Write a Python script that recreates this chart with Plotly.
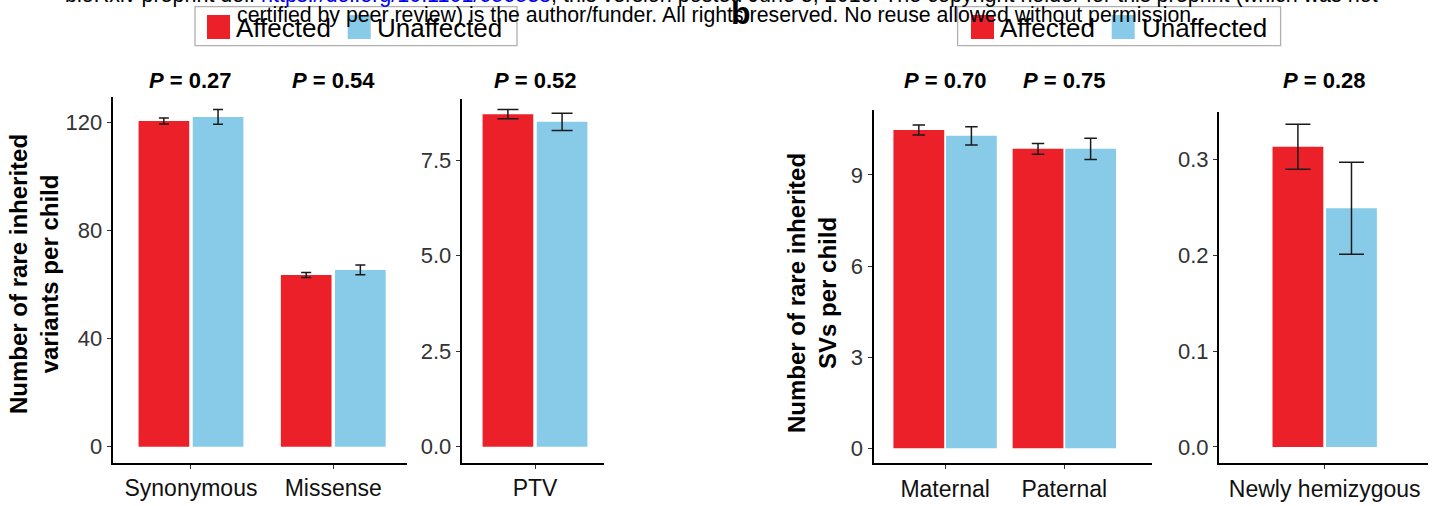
import plotly.graph_objects as go

W, H = 1440, 506
FONT = "Liberation Sans, Arial, Helvetica, sans-serif"

# ---------------- data ----------------
groups = ["Affected", "Unaffected"]
group_colors = ["#EC2028", "#87CBE8"]

a1_cats = ["Synonymous", "Missense"]
a1_affected = [120.5, 63.5]
a1_affected_err = [1.1, 0.9]
a1_unaffected = [122.0, 65.4]
a1_unaffected_err = [2.7, 1.8]
a1_pvals = ["0.27", "0.54"]
a1_ticks = [0, 40, 80, 120]
a1_ticktext = ["0", "40", "80", "120"]

a2_cats = ["PTV"]
a2_affected = [8.70]
a2_affected_err = [0.12]
a2_unaffected = [8.50]
a2_unaffected_err = [0.225]
a2_pvals = ["0.52"]
a2_ticks = [0, 2.5, 5.0, 7.5]
a2_ticktext = ["0.0", "2.5", "5.0", "7.5"]

b1_cats = ["Maternal", "Paternal"]
b1_affected = [10.48, 9.86]
b1_affected_err = [0.165, 0.175]
b1_unaffected = [10.29, 9.86]
b1_unaffected_err = [0.30, 0.35]
b1_pvals = ["0.70", "0.75"]
b1_ticks = [0, 3, 6, 9]
b1_ticktext = ["0", "3", "6", "9"]

b2_cats = ["Newly hemizygous"]
b2_affected = [0.313]
b2_affected_err = [0.0235]
b2_unaffected = [0.249]
b2_unaffected_err = [0.048]
b2_pvals = ["0.28"]
b2_ticks = [0, 0.1, 0.2, 0.3]
b2_ticktext = ["0.0", "0.1", "0.2", "0.3"]

a_ytitle = "Number of rare inherited<br>variants per child"
b_ytitle = "Number of rare inherited<br>SVs per child"

header1 = ("bioRxiv preprint doi: <span style='color:#0000EE'>https://doi.org/10.1101/656538</span>; "
           "this version posted June 3, 2019. The copyright holder for this preprint (which was not")
header2 = ("certified by peer review) is the author/funder. All rights reserved. "
           "No reuse allowed without permission.")
panel_label = "b"

# ---------------- layout geometry (pixels) ----------------
panels = [
    dict(cats=a1_cats, vals=[a1_affected, a1_unaffected], errs=[a1_affected_err, a1_unaffected_err],
         pvals=a1_pvals, ticks=a1_ticks, ticktext=a1_ticktext,
         px=(112.7, 406.7), py=(97.3, 462.7), xr=(-0.550, 1.516), yr=(-5.92, 129.25),
         bw=0.356, gap=0.0246, capw=5),
    dict(cats=a2_cats, vals=[a2_affected, a2_unaffected], errs=[a2_affected_err, a2_unaffected_err],
         pvals=a2_pvals, ticks=a2_ticks, ticktext=a2_ticktext,
         px=(461.7, 603.6), py=(99.3, 462.7), xr=(-0.515, 0.482), yr=(-0.4186, 9.088),
         bw=0.356, gap=0.0246, capw=10.5),
    dict(cats=b1_cats, vals=[b1_affected, b1_unaffected], errs=[b1_affected_err, b1_unaffected_err],
         pvals=b1_pvals, ticks=b1_ticks, ticktext=b1_ticktext,
         px=(873.5, 1152.3), py=(110.0, 463.3), xr=(-0.6007, 1.738), yr=(-0.494, 11.14),
         bw=0.426, gap=0.0151, capw=6.25),
    dict(cats=b2_cats, vals=[b2_affected, b2_unaffected], errs=[b2_affected_err, b2_unaffected_err],
         pvals=b2_pvals, ticks=b2_ticks, ticktext=b2_ticktext,
         px=(1219.0, 1428.0), py=(111.7, 463.0), xr=(-0.8867, 0.8666), yr=(-0.0167, 0.3496),
         bw=0.426, gap=0.0235, capw=12.5),
]


def fx(px):
    return px / W


def fy(py):
    return 1 - py / H


fig = go.Figure()
annotations = []
shapes = []
layout_axes = {}

for i, p in enumerate(panels, start=1):
    xname = "x" if i == 1 else f"x{i}"
    yname = "y" if i == 1 else f"y{i}"
    for g, (gname, col) in enumerate(zip(groups, group_colors)):
        offset = -(p["bw"] + p["gap"] / 2) if g == 0 else p["gap"] / 2
        fig.add_trace(go.Bar(
            x=p["cats"], y=p["vals"][g], name=gname,
            marker=dict(color=col, line=dict(width=0)),
            width=p["bw"], offset=offset,
            error_y=dict(type="data", array=p["errs"][g], visible=True,
                         color="#1a1a1a", thickness=1.5, width=p["capw"]),
            xaxis=xname, yaxis=yname, showlegend=False,
        ))
    xkey = "xaxis" if i == 1 else f"xaxis{i}"
    ykey = "yaxis" if i == 1 else f"yaxis{i}"
    layout_axes[xkey] = dict(
        domain=[fx(p["px"][0]), fx(p["px"][1])], anchor=yname,
        type="category", range=list(p["xr"]),
        showline=True, linecolor="black", linewidth=2,
        ticks="outside", ticklen=4, tickwidth=1.3, tickcolor="#333",
        showgrid=False, zeroline=False, fixedrange=True,
        tickfont=dict(family=FONT, size=23, color="#111"),
    )
    layout_axes[ykey] = dict(
        domain=[fy(p["py"][1]), fy(p["py"][0])], anchor=xname,
        range=list(p["yr"]), tickvals=p["ticks"], ticktext=p["ticktext"],
        showline=True, linecolor="black", linewidth=2,
        ticks="outside", ticklen=4, tickwidth=1.3, tickcolor="#333",
        showgrid=False, zeroline=False, fixedrange=True,
        tickfont=dict(family=FONT, size=22, color="#333"),
    )
    for cat, pv in zip(p["cats"], p["pvals"]):
        annotations.append(dict(
            x=cat, xref=xname, y=fy(81), yref="paper",
            text=f"<b><i>P</i> = {pv}</b>", showarrow=False,
            xanchor="center", yanchor="middle",
            font=dict(family=FONT, size=22, color="black"),
        ))

# y-axis titles
annotations.append(dict(x=fx(34), y=fy(274), xref="paper", yref="paper", text=f"<b>{a_ytitle}</b>",
                        textangle=-90, showarrow=False, xanchor="center", yanchor="middle",
                        font=dict(family=FONT, size=24, color="black")))
annotations.append(dict(x=fx(812), y=fy(293), xref="paper", yref="paper", text=f"<b>{b_ytitle}</b>",
                        textangle=-90, showarrow=False, xanchor="center", yanchor="middle",
                        font=dict(family=FONT, size=24, color="black")))

# manual legends
for (bx0, bx1, sq1, t1, sq2, t2) in [(195, 517, 207, 234, 347.7, 375), (957.6, 1280.6, 971, 998, 1111.7, 1139.7)]:
    shapes.append(dict(type="rect", xref="paper", yref="paper", x0=fx(bx0), x1=fx(bx1),
                       y0=fy(45.7), y1=fy(6.7), line=dict(color="#b0b0b0", width=1.3)))
    for sx, tx, gname, col in [(sq1, t1, groups[0], group_colors[0]), (sq2, t2, groups[1], group_colors[1])]:
        shapes.append(dict(type="rect", xref="paper", yref="paper", x0=fx(sx), x1=fx(sx + 23),
                           y0=fy(39), y1=fy(15), line=dict(width=0), fillcolor=col))
        annotations.append(dict(x=fx(tx), y=fy(28), xref="paper", yref="paper", text=gname,
                                showarrow=False, xanchor="left", yanchor="middle",
                                font=dict(family=FONT, size=26, color="black")))

# header text (preprint notice), clipped at top
annotations.append(dict(x=fx(721), y=fy(-5), xref="paper", yref="paper", text=header1,
                        showarrow=False, xanchor="center", yanchor="middle",
                        font=dict(family=FONT, size=21.5, color="black")))
annotations.append(dict(x=fx(717), y=fy(15), xref="paper", yref="paper", text=header2,
                        showarrow=False, xanchor="center", yanchor="middle",
                        font=dict(family=FONT, size=21.3, color="black")))
annotations.append(dict(x=fx(741), y=fy(13), xref="paper", yref="paper", text=panel_label,
                        showarrow=False, xanchor="center", yanchor="middle",
                        font=dict(family="Liberation Sans", size=32, color="black", weight="bold")))

fig.update_layout(
    width=W, height=H, margin=dict(l=0, r=0, t=0, b=0),
    paper_bgcolor="white", plot_bgcolor="white",
    barmode="overlay", showlegend=False,
    annotations=annotations, shapes=shapes,
    font=dict(family=FONT),
    **layout_axes,
)

fig.write_html("out.html", config={"displayModeBar": False})
